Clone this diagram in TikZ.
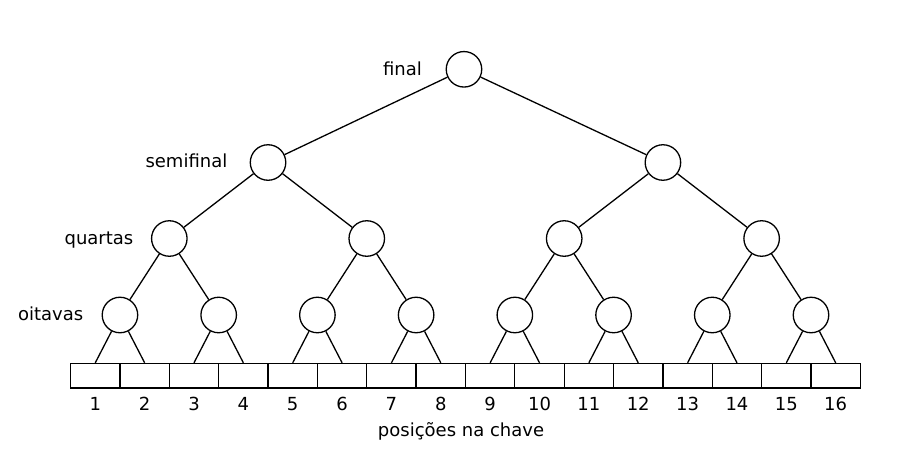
\documentclass[tikz,border=0pt]{standalone}
\usepackage{fontspec}
\setmainfont{DejaVu Sans}
\begin{document}
\begin{tikzpicture}[x=1pt,y=-1pt,
  match/.style={circle,draw,line width=1.3pt,minimum size=35.5pt,inner sep=0pt},
  slot/.style={draw,line width=1.3pt,minimum width=49.36pt,minimum height=24.5pt,inner sep=0pt},
  edge/.style={line width=1.3pt},
  lbl/.style={font=\fontsize{18}{21}\selectfont,inner sep=0pt}]
\useasboundingbox (0,0) rectangle (908,458);
\def\xo{70.6}
\def\w{49.36}
% bracket slots with their numbers
\foreach \i in {1,...,16}{
  \pgfmathsetmacro\cx{\xo+(\i-0.5)*\w}
  \node[slot] (b\i) at (\cx,375.7) {};
  \node[lbl,anchor=base] (n\i) at (\cx,410) {\i};
}
% round of sixteen
\foreach \j in {1,...,8}{
  \pgfmathsetmacro\cx{\xo+(2*\j-1)*\w}
  \node[match] (o\j) at (\cx,315) {};
}
% quarterfinals
\foreach \k in {1,...,4}{
  \pgfmathsetmacro\cx{\xo+(4*\k-2)*\w}
  \node[match] (q\k) at (\cx,238.5) {};
}
% semifinals and final
\node[match] (s1) at ({\xo+4*\w},162.5) {};
\node[match] (s2) at ({\xo+12*\w},162.5) {};
\node[match] (f) at ({\xo+8*\w-1.5},69.3) {};
% connectors
\draw[edge] (f) -- (s1);
\draw[edge] (f) -- (s2);
\draw[edge] (s1) -- (q1);
\draw[edge] (s1) -- (q2);
\draw[edge] (s2) -- (q3);
\draw[edge] (s2) -- (q4);
\foreach \k [evaluate=\k as \a using int(2*\k-1), evaluate=\k as \b using int(2*\k)] in {1,...,4}{
  \draw[edge] (q\k) -- (o\a);
  \draw[edge] (q\k) -- (o\b);
}
\foreach \j [evaluate=\j as \a using int(2*\j-1), evaluate=\j as \b using int(2*\j)] in {1,...,8}{
  \draw[edge] (o\j) -- (b\a.north);
  \draw[edge] (o\j) -- (b\b.north);
}
% round labels
\node[lbl,anchor=base east] (lf) at (422,75) {final};
\node[lbl,anchor=base east] (ls) at (227.5,167.3) {semifinal};
\node[lbl,anchor=base east] (lq) at (133.5,244.3) {quartas};
\node[lbl,anchor=base east] (lo) at (83.5,320.7) {oitavas};
\node[lbl,anchor=base] (lp) at (461,436.7) {posições na chave};
\end{tikzpicture}
\end{document}
